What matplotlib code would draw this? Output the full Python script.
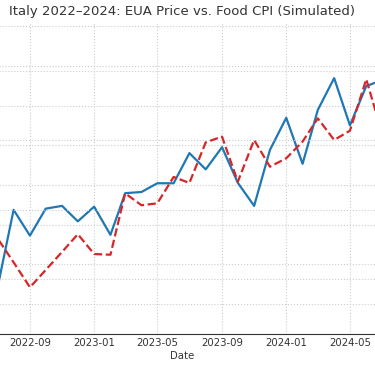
import numpy as np
import pandas as pd
import matplotlib
matplotlib.use("Agg")
import matplotlib.pyplot as plt

dates = pd.date_range("2022-01-01", "2024-12-01", freq="MS")

# EUA price (EUR/t), simulated
eua_price = [78.0, 82.5, 74.0, 70.5, 72.0, 68.0,
             63.8, 83.7, 77.2, 84.0, 84.7, 80.8,
             84.5, 77.4, 87.9, 88.2, 90.4, 90.4,
             98.0, 93.9, 99.5, 90.5, 84.7, 98.8,
             106.9, 95.3, 108.9, 116.9, 105.0, 114.9,
             116.4, 110.0, 113.5, 108.0, 112.0, 115.0]

# Food CPI index, simulated
food_cpi = [97.0, 97.8, 98.5, 99.6, 101.0, 101.8,
            102.96, 101.2, 99.4, 100.65, 101.95, 103.23,
            101.8, 101.75, 106.18, 105.32, 105.46, 107.36,
            106.93, 109.86, 110.27, 107.02, 110.03, 108.1,
            108.71, 109.91, 111.59, 110.03, 110.7, 114.41,
            110.53, 112.0, 113.2, 111.8, 113.6, 114.5]

fig = plt.figure(figsize=(3.75, 3.66), dpi=100)
ax1 = fig.add_axes([-126 / 375, 32 / 366, 616.6 / 375, 311 / 366])
ax2 = ax1.twinx()

ax1.plot(dates, eua_price, color="#1f77b4", lw=1.6, label="EUA Price")
ax2.plot(dates, food_cpi, color="#d62728", lw=1.6, ls="--", label="Food CPI")

ax1.set_ylim(52.4, 130.8)
ax1.set_yticks(np.arange(60, 131, 10))
ax2.set_ylim(96.03, 118.47)
ax2.set_yticks([100, 105, 110, 115])

ax1.set_xticks(pd.date_range("2022-01-01", "2024-12-01", freq="4MS"))
ax1.xaxis.set_major_formatter(matplotlib.dates.DateFormatter("%Y-%m"))

ax1.grid(True, ls=":", color="#cccccc", lw=0.8)
ax2.grid(True, axis="y", ls=":", color="#cccccc", lw=0.8)
ax1.set_axisbelow(True)

for ax in (ax1, ax2):
    ax.spines["top"].set_visible(False)
    ax.spines["left"].set_visible(False)
    ax.spines["right"].set_visible(False)
    ax.tick_params(length=0, labelsize=7.3, colors="#333333")
ax1.spines["bottom"].set_color("#333333")
ax2.spines["bottom"].set_visible(False)
ax1.tick_params(axis="x", pad=3)

ax1.set_xlabel("Date", fontsize=7.3, color="#333333", labelpad=2)
ax1.set_title("Italy 2022\u20132024: EUA Price vs. Food CPI (Simulated)",
              fontsize=9.5, color="#333333", pad=6)

fig.savefig("out.png", dpi=100)
